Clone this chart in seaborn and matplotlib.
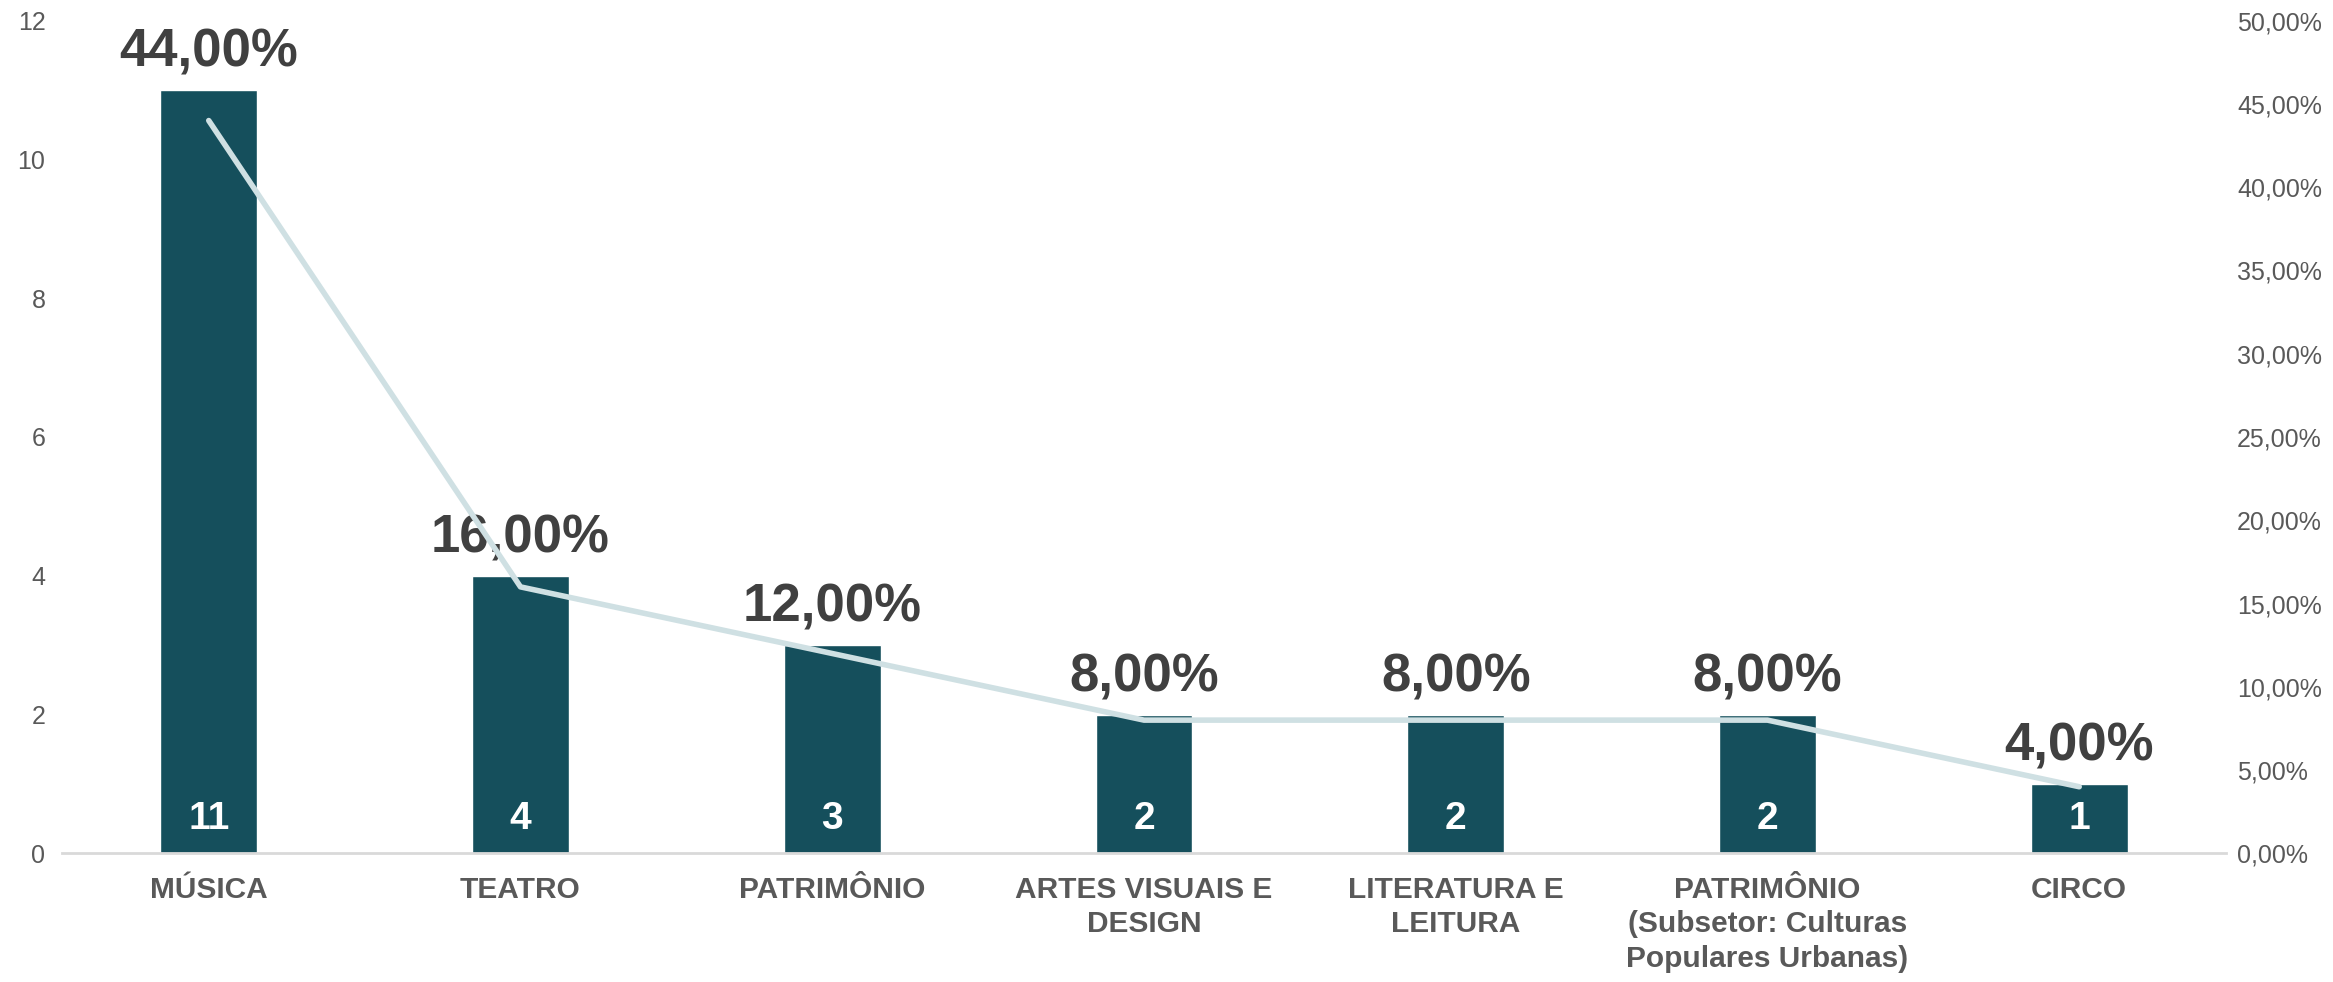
"""Bar + line chart: quantidade e percentual por setor cultural."""

import matplotlib

matplotlib.use("Agg")

import matplotlib.pyplot as plt
import numpy as np
import pandas as pd
import seaborn as sns
from matplotlib.ticker import FuncFormatter, MultipleLocator

CATEGORIES = [
    "MÚSICA",
    "TEATRO",
    "PATRIMÔNIO",
    "ARTES VISUAIS E\nDESIGN",
    "LITERATURA E\nLEITURA",
    "PATRIMÔNIO\n(Subsetor: Culturas\nPopulares Urbanas)",
    "CIRCO",
]
COUNTS = [11, 4, 3, 2, 2, 2, 1]
PERCENTS = [44.0, 16.0, 12.0, 8.0, 8.0, 8.0, 4.0]

BAR_COLOR = "#154F5C"
LINE_COLOR = "#CFE0E3"
TICK_COLOR = "#595959"
LABEL_COLOR = "#404040"

sns.set_style("white")
plt.rcParams["font.family"] = ["Liberation Sans", "DejaVu Sans"]

df = pd.DataFrame({"setor": CATEGORIES, "qtd": COUNTS, "pct": PERCENTS})

fig = plt.figure(figsize=(23.33, 9.82), dpi=100)
ax = fig.add_axes([0.0266, 0.131, 0.9275, 0.848])

sns.barplot(data=df, x="setor", y="qtd", color=BAR_COLOR, width=0.31,
            saturation=1, ax=ax)
ax.set_ylim(0, 12)
ax.yaxis.set_major_locator(MultipleLocator(2))
ax.set_xlabel("")
ax.set_ylabel("")
for side in ["left", "right", "top"]:
    ax.spines[side].set_visible(False)
ax.spines["bottom"].set_color("#D9D9D9")
ax.spines["bottom"].set_linewidth(2)
ax.tick_params(axis="y", length=0, labelsize=18, labelcolor=TICK_COLOR, pad=12)
ax.tick_params(axis="x", length=0, pad=16)
for lbl in ax.get_xticklabels():
    lbl.set_fontsize(21.5)
    lbl.set_fontweight("bold")
    lbl.set_color(TICK_COLOR)
    lbl.set_linespacing(1.3)
    lbl.set_verticalalignment("top")

# count labels inside the bars
for i, v in enumerate(COUNTS):
    ax.text(i, 0.5, str(v), ha="center", va="center", color="white",
            fontsize=28, fontweight="bold")

# percentage labels above the bars
for i, (v, p) in enumerate(zip(COUNTS, PERCENTS)):
    ax.annotate(f"{p:.2f}%".replace(".", ","), (i, v), xytext=(0, 9),
                textcoords="offset points", ha="center", va="bottom",
                fontsize=38, fontweight="bold", color=LABEL_COLOR)

ax2 = ax.twinx()
sns.lineplot(x=np.arange(len(CATEGORIES)), y=PERCENTS, color=LINE_COLOR,
             linewidth=4, ax=ax2)
ax2.set_ylim(0, 50)
ax2.yaxis.set_major_locator(MultipleLocator(5))
ax2.yaxis.set_major_formatter(
    FuncFormatter(lambda v, _: f"{v:.2f}%".replace(".", ",")))
for side in ["left", "right", "top", "bottom"]:
    ax2.spines[side].set_visible(False)
ax2.tick_params(axis="y", length=0, labelsize=18, labelcolor=TICK_COLOR, pad=8)

fig.savefig("out.png", dpi=100)
plt.close(fig)
